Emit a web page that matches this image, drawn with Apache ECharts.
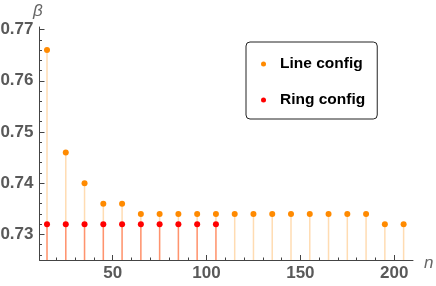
<!DOCTYPE html>
<html><head><meta charset="utf-8">
<script src="https://cdn.jsdelivr.net/npm/echarts@6/dist/echarts.min.js"></script>
<style>html,body{margin:0;padding:0;background:#fff}#c{width:436px;height:286px}</style>
</head><body><div id="c"></div>
<script>
const lineN = [15,25,35,45,55,65,75,85,95,105,115,125,135,145,155,165,175,185,195,205];
const lineBeta = [0.766,0.746,0.740,0.736,0.736,0.734,0.734,0.734,0.734,0.734,0.734,0.734,0.734,0.734,0.734,0.734,0.734,0.734,0.732,0.732];
const ringN = [15,25,35,45,55,65,75,85,95,105];
const ringBeta = [0.732,0.732,0.732,0.732,0.732,0.732,0.732,0.732,0.732,0.732];
const xMajorTicks = [50,100,150,200];
const xMinorTicks = [20,30,40,60,70,80,90,110,120,130,140,160,170,180,190];
const yMajorTicks = [0.73,0.74,0.75,0.76,0.77];
const yMinorTicks = [0.726,0.728,0.732,0.734,0.736,0.738,0.742,0.744,0.746,0.748,0.752,0.754,0.756,0.758,0.762,0.764,0.766,0.768];
const xName = 'n', yName = 'β';

const X_MIN = 11, X_MAX = 210, Y_MIN = 0.725, Y_MAX = 0.7705;
const labelStyle = {color:'#595959', fontSize:17, fontWeight:'bold', fontFamily:'Liberation Sans'};
const nameStyle = {fill:'#666', fontSize:17, fontStyle:'italic', fontFamily:'Liberation Sans'};

function stem(color){
  return function(params, api){
    const top = api.coord([api.value(0), api.value(1)]);
    const bot = api.coord([api.value(0), Y_MIN]);
    return {type:'line', shape:{x1:top[0],y1:top[1],x2:bot[0],y2:bot[1]},
            style:{stroke:color, lineWidth:1.5}};
  };
}
const zip = (a,b)=>a.map((v,i)=>[v,b[i]]);

const chart = echarts.init(document.getElementById('c'), null, {renderer:'canvas'});
chart.setOption({
  animation:false,
  backgroundColor:'#fff',
  grid:{left:39.5, right:23, top:27, bottom:26, containLabel:false, outerBoundsMode:'none'},
  graphic:[
    {type:'text', left:424, top:255, style:Object.assign({text:xName}, nameStyle)},
    {type:'text', left:33, top:3, style:Object.assign({text:yName}, nameStyle)}
  ],
  xAxis:[
    {type:'value', min:X_MIN, max:X_MAX, position:'bottom',
     axisLine:{show:true, onZero:false, lineStyle:{color:'#444', width:1}},
     axisTick:{show:true, inside:true, length:5, customValues:xMajorTicks, lineStyle:{color:'#444'}},
     axisLabel:{show:true, customValues:xMajorTicks, margin:5, ...labelStyle},
     splitLine:{show:false}},
    {type:'value', min:X_MIN, max:X_MAX, position:'bottom',
     axisLine:{show:false, onZero:false},
     axisTick:{show:true, inside:true, length:2.5, customValues:xMinorTicks, lineStyle:{color:'#444'}},
     axisLabel:{show:false}, splitLine:{show:false}}
  ],
  yAxis:[
    {type:'value', min:Y_MIN, max:Y_MAX, position:'left',
     axisLine:{show:true, onZero:false, lineStyle:{color:'#444', width:1}},
     axisTick:{show:true, inside:true, length:5, customValues:yMajorTicks, lineStyle:{color:'#444'}},
     axisLabel:{show:true, customValues:yMajorTicks, margin:6, formatter:v=>v.toFixed(2), ...labelStyle},
     splitLine:{show:false}},
    {type:'value', min:Y_MIN, max:Y_MAX, position:'left',
     axisLine:{show:false, onZero:false},
     axisTick:{show:true, inside:true, length:2.5, customValues:yMinorTicks, lineStyle:{color:'#444'}},
     axisLabel:{show:false}, splitLine:{show:false}}
  ],
  legend:{
    orient:'vertical', left:246, top:42, itemWidth:5, itemHeight:5, icon:'circle',
    itemGap:20, padding:[14,12,11,15],
    borderColor:'#222', borderWidth:1, borderRadius:4,
    textStyle:{color:'#000', fontSize:15.5, fontWeight:'bold', fontFamily:'Liberation Sans', padding:[0,0,0,9]},
    data:['Line config','Ring config']
  },
  series:[
    {name:'line-stems', type:'custom', renderItem:stem('rgba(255,140,0,0.3)'), data:zip(lineN,lineBeta), z:1, clip:true},
    {name:'ring-stems', type:'custom', renderItem:stem('rgba(255,30,0,0.38)'), data:zip(ringN,ringBeta), z:1, clip:true},
    {name:'Line config', type:'scatter', symbol:'circle', symbolSize:6, itemStyle:{color:'#ff8a00', opacity:1}, data:zip(lineN,lineBeta), z:3},
    {name:'Ring config', type:'scatter', symbol:'circle', symbolSize:6, itemStyle:{color:'#ff0000', opacity:1}, data:zip(ringN,ringBeta), z:4}
  ]
});
</script></body></html>
